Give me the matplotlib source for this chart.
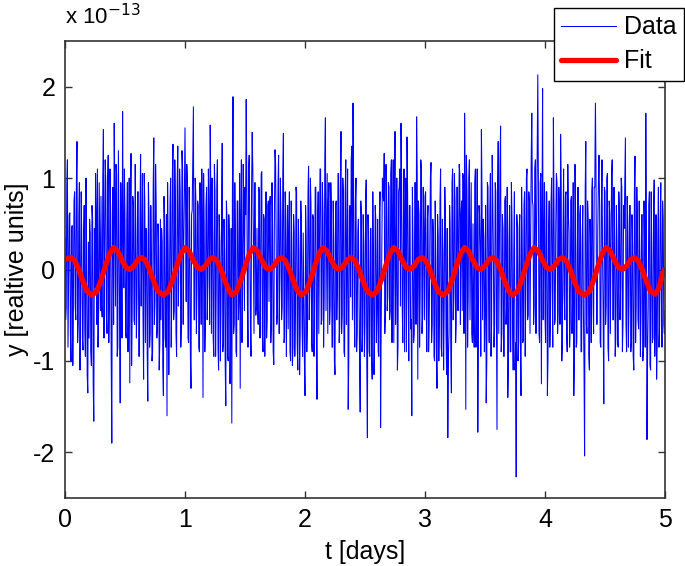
import numpy as np
import matplotlib
matplotlib.use("Agg")
import matplotlib.pyplot as plt

plt.rcParams['font.family'] = ['Liberation Sans', 'DejaVu Sans']
plt.rcParams['axes.unicode_minus'] = False

# ---- data (values in units of 1e-13) ----
# samples at t = 0.00, 0.01, 0.02, ... days
data_t_step = 0.01
data_y = [
    0.35, -0.42, 1.20, -0.15, 0.62, -1.00, 0.48, -0.30, 0.85, -0.55,
    1.40, -0.60, 0.95, -0.35, 0.30, -0.88, 0.70, -0.95, 0.12, -1.35,
    -0.75, 0.40, -1.05, 0.55, -1.66, -0.20, 0.62, 1.10, -0.48, 0.25,
    0.80, -0.52, 1.53, 0.10, 0.95, -0.70, 1.25, -0.30, 0.60, -1.90,
    0.90, 1.60, -0.40, 1.05, -0.85, 0.45, -1.46, 0.30, 1.73, -0.20,
    0.55, -0.75, 0.95, -0.10, -1.24, 1.27, -0.45, 0.70, -0.60, 0.35,
    -0.30, 0.85, -0.95, 1.26, 0.20, -0.50, 1.05, -0.80, 0.40, -1.44,
    0.60, -0.70, 0.15, -0.90, 1.44, -0.35, 0.72, -0.65, 0.25, -0.80,
    -0.55, 0.30, -1.38, 0.45, -0.85, -1.60, 0.20, -0.40, 1.00, -0.25,
    1.37, -0.45, 0.70, -0.95, 1.35, 0.10, 0.85, -0.60, 1.10, 0.30,
    1.55, -0.35, 0.95, -0.80, 0.40, -1.30, 0.65, 1.78, -0.55, 0.80,
    -0.20, 0.70, -0.90, 0.35, 1.10, -1.40, 0.50, -0.60, 0.90, -0.15,
    0.60, 1.58, -0.70, 0.40, -0.95, 0.85, -0.25, 1.20, -1.10, 0.30,
    -0.45, 1.38, -0.80, 0.20, -1.49, 0.55, -1.00, 0.35, -0.70, -1.68,
    1.89, -0.60, 0.40, -0.95, 0.75, -0.30, -1.30, 1.20, -0.20, 0.65,
    0.90, 1.86, -0.35, 1.10, 0.40, -0.95, 1.50, 0.20, 0.95, -0.50,
    0.45, -0.60, 0.85, -0.20, 1.07, -0.90, 0.55, 0.10, -0.75, 0.70,
    -0.35, 0.80, -0.60, 0.45, -1.04, 1.31, 0.20, -0.50, 1.25, -0.10,
    0.55, -0.40, 1.49, -0.75, 0.60, 0.05, -0.65, 0.85, -1.00, 0.30,
    -0.85, 0.40, -0.45, 0.84, -1.10, 0.20, -0.70, 0.50, -0.95, -0.30,
    -1.38, 0.35, -0.60, 1.13, -0.20, 0.70, -0.90, 0.55, -0.35, 0.90,
    -1.42, 0.85, 0.20, 1.10, -0.55, 0.60, -0.30, 1.66, 0.35, -0.70,
    0.95, -0.40, 0.65, -0.85, 0.30, -1.15, 0.75, -0.20, 1.05, -0.60,
    1.51, -0.50, 0.80, -0.95, 1.20, 0.10, -1.53, 0.65, -0.30, 1.35,
    1.82, -0.45, 0.75, -0.90, 0.40, -0.20, -1.56, 0.60, -0.70, 0.25,
    -0.60, 0.98, -1.84, 0.30, -0.95, 0.45, -1.20, 0.15, -0.75, 0.55,
    -0.40, -0.90, 0.60, -1.73, 0.25, 0.85, 1.27, -0.50, 0.70, -0.30,
    0.90, -0.45, 1.20, 0.35, -0.80, 1.51, 0.10, -1.10, 0.85, 1.10,
    1.60, -0.40, 0.50, -0.90, 1.00, 1.45, -0.30, 0.70, -0.65, -1.60,
    0.30, -0.70, 0.95, 1.67, -1.20, 0.60, -0.25, 1.10, -0.50, 0.45,
    0.80, -0.35, 0.55, -0.90, 0.25, 1.17, -0.60, 0.40, -1.00, 0.10,
    -1.30, 0.35, -0.55, 1.10, -0.95, 0.20, -0.40, 0.60, -1.15, -1.84,
    -0.70, 0.45, -1.35, 1.10, -0.30, 0.75, -0.60, 0.90, 0.20, 1.05,
    0.60, -0.45, 1.00, 1.71, -1.53, 0.85, -0.30, 1.20, 0.15, -0.70,
    0.50, -0.85, 1.10, -0.30, -1.78, 0.70, 0.20, 1.53, -0.55, 0.35,
    -0.40, -1.46, 0.95, -0.20, 0.60, -0.95, 1.25, 0.10, -0.60, 0.85,
    -1.75, 1.40, 0.30, 1.57, -0.70, 0.45, -0.95, 0.80, -0.40, -1.40,
    0.30, -0.90, 0.95, -0.60, 0.20, -1.10, -2.27, 0.45, -0.80, 0.60,
    -1.38, 0.40, -0.75, 0.85, -0.30, 1.10, -0.50, 0.75, 0.20, 1.71,
    0.70, -0.40, 1.20, 0.45, 2.13, -0.70, 0.95, -1.25, 1.98, 0.30,
    -0.50, 0.85, -1.38, 0.40, -0.85, 0.70, -0.20, 1.66, -0.60, 0.50,
    0.95, -0.45, 0.60, 1.48, -1.00, 0.35, -0.25, 0.80, -0.70, 1.15,
    0.40, -0.60, 0.80, -0.30, -1.38, 1.15, -0.85, 0.25, -0.55, 0.60,
    -0.90, 0.35, -0.45, -2.04, 1.40, -0.70, 0.55, -1.10, 0.20, 0.85,
    -0.30, 0.90, 1.82, -0.60, 0.45, 1.25, -0.80, 0.70, 0.10, -1.47,
    0.85, -0.40, 1.05, -1.00, 0.60, 0.20, 1.20, -0.55, 0.35, -0.75,
    0.30, -0.85, 0.65, -0.20, 0.90, -0.60, 0.45, 1.44, -0.90, 0.50,
    -0.35, 0.70, -0.80, 0.25, -1.10, 1.24, -0.40, 0.55, -0.65, 0.10,
    -0.50, 0.60, -0.90, 0.30, 1.71, -1.86, -0.40, 0.85, -1.10, 0.20,
    -0.75, 0.98, -0.45, -1.20, 0.30, -0.85, 0.55, -0.30, 0.75, -0.60,
    -0.45,
]
# samples half-way between the above, at t = 0.005, 0.015, ... days
data_y_mid = [
    -0.55, 0.90, -0.85, 0.60, -0.70, 0.45, -1.05, 0.75, -0.40, 0.95,
    -0.80, 0.55, -1.10, 0.85, -0.75, 0.35, -0.65, 1.00, -1.15, 0.30,
    0.55, -0.90, 0.70, -1.25, 0.45, 1.05, -0.60, -0.85, 0.95, -0.45,
    -0.40, 1.00, -0.75, 1.20, -0.50, 0.90, -0.80, 1.10, -0.95, 0.70,
    -0.60, 0.85, 1.15, -0.95, 1.30, -0.45, 0.95, -0.75, 0.40, 1.10,
    -0.70, 0.55, -0.90, 1.00, 0.65, -1.05, 0.80, -0.55, 1.15, -0.75,
    0.85, -0.95, 0.60, -0.40, 1.05, -1.20, 0.75, 0.45, -0.90, 0.95,
    -0.85, 0.70, -1.00, 0.90, -0.60, 1.15, -0.75, 0.50, -1.10, 0.55,
    0.45, -1.05, 0.80, -0.75, 0.60, 0.95, -1.15, 0.70, -0.85, 1.05,
    -0.55, 1.20, -0.70, 0.95, -0.40, 1.10, -0.85, 1.30, -0.60, 0.85,
    0.70, 1.15, -0.75, 0.90, -0.95, 0.60, 1.25, -0.55, 1.00, -0.70,
    0.75, -0.85, 0.95, -0.60, 0.45, 1.05, -0.90, 0.70, -0.55, 1.10,
    -0.60, 0.85, 1.00, -0.75, 1.15, -0.95, 0.90, -0.85, 0.60, -1.00,
    0.65, -0.90, 0.55, -1.05, 0.75, -0.95, 0.60, -1.25, 0.45, 0.80,
    -0.70, 0.95, -0.90, 0.75, -0.55, 1.05, 0.60, -0.80, 1.15, -0.45,
    0.60, 1.00, -0.85, 1.25, -0.60, 0.90, 1.10, -0.70, 0.95, -0.40,
    -0.45, 0.90, -0.75, 1.05, -0.70, 0.60, -0.95, 0.85, -0.55, 0.75,
    0.70, -0.80, 0.95, -0.90, 0.60, 1.15, -0.60, 0.90, -0.70, 1.00,
    -0.55, 1.05, -0.80, 0.85, -0.95, 0.70, 0.45, -0.90, 0.75, -1.05,
    0.60, -0.95, 0.90, -0.80, 0.55, -1.15, 0.75, -0.60, 0.40, -1.00,
    0.70, -0.90, 0.85, -0.55, 1.00, -0.80, 0.60, -0.95, 0.90, -0.70,
    0.55, -0.70, 1.10, -0.60, 0.95, -0.85, 1.20, -0.45, 1.05, 0.75,
    -0.60, 0.95, -0.85, 0.75, -1.00, 0.70, -0.55, 1.05, -0.80, 0.90,
    -0.70, 1.00, -0.90, 0.85, -0.60, 1.10, -0.95, 0.70, 1.20, -0.55,
    0.90, -0.85, 1.00, -0.70, 0.55, -1.05, 0.75, -0.90, 0.60, -0.95,
    0.75, -1.05, 0.60, -0.90, 0.45, -1.00, 0.85, -1.15, 0.70, -0.80,
    0.55, -0.95, 0.85, -0.60, 1.00, 0.75, -0.70, 1.15, -0.45, 0.95,
    -0.55, 1.05, -0.80, 1.20, 0.70, -0.60, 1.00, -0.85, 0.90, -0.40,
    0.95, -0.80, 1.10, 0.60, -0.90, 0.85, -1.00, 0.70, -0.55, 0.90,
    -0.80, 0.95, -0.60, 1.05, 0.75, -0.85, 1.20, -0.70, 0.90, -0.55,
    0.85, -0.90, 0.70, -0.60, 1.00, -0.80, 0.55, -0.95, 0.75, -0.85,
    0.60, -1.00, 0.75, -0.85, 0.55, -1.10, 0.90, -0.70, 0.45, -0.95,
    0.70, -0.90, 0.95, -0.55, 1.05, -0.80, 0.90, -0.45, 1.15, -0.60,
    0.75, 1.05, -0.70, 0.90, 1.25, -0.85, 1.00, -0.55, 0.95, -0.80,
    -0.60, 0.95, -0.85, 1.10, -0.70, 0.60, -0.95, 0.85, 0.55, -0.90,
    0.70, -1.00, 0.90, -0.80, 1.05, -0.60, 0.75, -0.85, 0.95, -0.55,
    0.85, -0.70, 1.15, -0.90, 0.60, -0.95, 0.75, -0.60, 0.90, -1.05,
    0.70, -0.90, 0.55, -1.10, 0.85, -0.80, 0.60, -1.00, 0.45, -0.85,
    0.90, -0.80, 0.70, -0.95, 1.00, -0.55, 0.85, -0.70, 1.20, 0.75,
    -0.60, 1.10, -0.70, 1.25, 0.90, -0.80, 1.05, 0.60, -0.55, 0.95,
    -0.80, 0.85, -0.95, 0.75, -0.60, 1.00, -0.85, 0.70, -0.55, 1.05,
    -0.70, 0.90, -0.60, 0.95, -0.80, 1.10, -0.55, 0.85, -0.90, 0.60,
    -0.85, 0.75, -0.70, 0.95, -1.00, 0.60, -0.80, 0.90, -0.55, 0.70,
    -0.90, 0.70, -1.05, 0.85, -0.60, 0.75, -0.95, 0.55, -0.80, 1.00,
    -0.70, 0.90, 1.10, -0.60, 0.95, 0.70, -0.85, 1.20, -0.55, 0.90,
    -0.60, 1.00, -0.85, 0.75, -0.70, 1.05, -0.55, 0.90, -0.95, 0.70,
    -0.80, 0.85, -0.55, 1.00, -0.90, 0.70, 0.95, -0.60, 0.80, -0.85,
    0.70, -0.90, 0.60, -0.95, 0.85, -0.80, 0.90, -0.55, 0.75, -0.95,
    0.60, -1.00, 0.75, -0.85, 0.55, -0.90, 0.70, -1.05, 0.85, -0.80,
    0.70, -0.95, 0.60, -0.80, 0.90, -0.60, 0.95, -0.85, 0.55, -0.70,
]

# ---- fit curve (units of 1e-13) ----
fit_t = [
    0.00, 0.05, 0.08, 0.115, 0.15, 0.185,
    0.225, 0.265, 0.305, 0.345, 0.375, 0.405, 0.44, 0.475, 0.51, 0.54, 0.575, 0.61, 0.64, 0.67, 0.705, 0.74, 0.775,
    0.82, 0.86, 0.90, 0.94, 0.97, 1.00, 1.035, 1.07, 1.105, 1.135, 1.17, 1.205, 1.235, 1.265, 1.30, 1.335, 1.37,
    1.39, 1.43, 1.47, 1.51, 1.54, 1.57, 1.605, 1.64, 1.675, 1.705, 1.74, 1.775, 1.805, 1.835, 1.87, 1.905, 1.94,
    1.97, 2.01, 2.05, 2.09, 2.12, 2.15, 2.185, 2.22, 2.255, 2.285, 2.32, 2.355, 2.385, 2.415, 2.45, 2.485, 2.52,
    2.56, 2.60, 2.64, 2.68, 2.71, 2.74, 2.775, 2.81, 2.845, 2.875, 2.91, 2.945, 2.975, 3.005, 3.04, 3.075, 3.11,
    3.15, 3.19, 3.23, 3.27, 3.30, 3.33, 3.365, 3.40, 3.435, 3.465, 3.50, 3.535, 3.565, 3.595, 3.63, 3.665, 3.70,
    3.73, 3.77, 3.81, 3.85, 3.88, 3.91, 3.945, 3.98, 4.015, 4.045, 4.08, 4.115, 4.145, 4.175, 4.21, 4.245, 4.28,
    4.33, 4.37, 4.41, 4.45, 4.48, 4.51, 4.545, 4.58, 4.615, 4.645, 4.68, 4.715, 4.745, 4.775, 4.81, 4.845, 4.88,
    4.92, 4.95, 4.98, 5.00,
]
fit_y = [
    0.11, 0.13, 0.10, 0.00, -0.13, -0.24,
    -0.28, -0.24, -0.10, 0.07, 0.18, 0.24, 0.20, 0.10, 0.02, 0.00, 0.04, 0.11, 0.13, 0.10, 0.00, -0.13, -0.24,
    -0.28, -0.24, -0.10, 0.07, 0.18, 0.24, 0.20, 0.10, 0.02, 0.00, 0.04, 0.11, 0.13, 0.10, 0.00, -0.13, -0.24,
    -0.28, -0.24, -0.10, 0.07, 0.18, 0.24, 0.20, 0.10, 0.02, 0.00, 0.04, 0.11, 0.13, 0.10, 0.00, -0.13, -0.24,
    -0.28, -0.24, -0.10, 0.07, 0.18, 0.24, 0.20, 0.10, 0.02, 0.00, 0.04, 0.11, 0.13, 0.10, 0.00, -0.13, -0.24,
    -0.28, -0.24, -0.10, 0.07, 0.18, 0.24, 0.20, 0.10, 0.02, 0.00, 0.04, 0.11, 0.13, 0.10, 0.00, -0.13, -0.24,
    -0.28, -0.24, -0.10, 0.07, 0.18, 0.24, 0.20, 0.10, 0.02, 0.00, 0.04, 0.11, 0.13, 0.10, 0.00, -0.13, -0.24,
    -0.28, -0.24, -0.10, 0.07, 0.18, 0.24, 0.20, 0.10, 0.02, 0.00, 0.04, 0.11, 0.13, 0.10, 0.00, -0.13, -0.24,
    -0.28, -0.24, -0.10, 0.07, 0.18, 0.24, 0.20, 0.10, 0.02, 0.00, 0.04, 0.11, 0.13, 0.10, 0.00, -0.13, -0.24,
    -0.27, -0.20, -0.05, 0.00,
]

x_ticks = [0, 1, 2, 3, 4, 5]
y_ticks = [-2, -1, 0, 1, 2]
x_label = "t [days]"
y_label = "y [realtive units]"
exponent_label = "x 10$^{-13}$"
series_names = ["Data", "Fit"]

# interleave the two sample sets in time order
t_main = data_t_step * np.arange(len(data_y))
t_mid = data_t_step * np.arange(len(data_y_mid)) + data_t_step / 2
data_t = np.concatenate([t_main, t_mid])
data_v = np.concatenate([np.array(data_y), np.array(data_y_mid)])
order = np.argsort(data_t, kind='stable')
data_t = data_t[order]
data_v = data_v[order]

fig = plt.figure(figsize=(6.85, 5.66), dpi=100)
ax = fig.add_axes([65/685, 1 - 498/566, 600/685, 457/566])

ax.plot(data_t, data_v, color='#0000ff', lw=0.75, label=series_names[0])
ax.plot(fit_t, fit_y, color='#ff0000', lw=3.8, label=series_names[1],
        solid_joinstyle='round', solid_capstyle='round')

ax.set_xlim(0, 5)
ax.set_ylim(-2.5, 2.5)
ax.set_xticks(x_ticks)
ax.set_yticks(y_ticks)
ax.tick_params(direction='in', top=True, right=True, length=5, width=1,
               labelsize=18, color='#333333', pad=7)
for s in ax.spines.values():
    s.set_linewidth(1.2)
    s.set_color('#333333')

ax.set_xlabel(x_label, fontsize=18, labelpad=6)
ax.set_ylabel(y_label, fontsize=18, labelpad=3)
ax.text(0.0, 1.025, exponent_label, transform=ax.transAxes, fontsize=16,
        ha='left', va='bottom')

leg = fig.legend(loc='upper right', bbox_to_anchor=(684/685, 1 - 8/566),
                 bbox_transform=fig.transFigure, borderaxespad=0,
                 fontsize=18, frameon=True, fancybox=False,
                 handlelength=2.2, labelspacing=0.4, borderpad=0.3,
                 handletextpad=0.3)
leg.get_frame().set_edgecolor('black')
leg.get_frame().set_linewidth(1.0)
leg.get_frame().set_alpha(1)

fig.savefig('out.png', dpi=100)
